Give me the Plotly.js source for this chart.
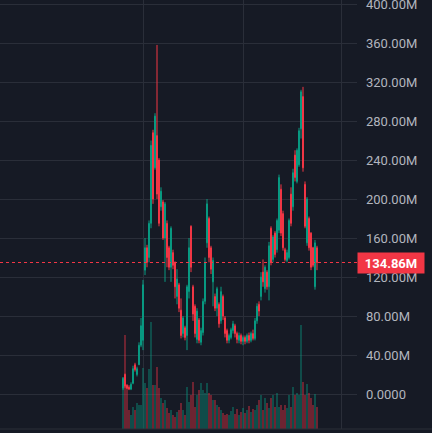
<!DOCTYPE html>
<html>
<head>
<meta charset="utf-8">
<script src="https://cdn.plot.ly/plotly-3.0.1.min.js"></script>
<style>
  html, body { margin: 0; padding: 0; background: #161a25; }
  #chart { width: 432px; height: 433px; }
</style>
</head>
<body>
<div id="chart"></div>
<script>
// Price candles (values in millions)
const open  = [6,20,9,7,5,11,30,20,30,50,55,127,150,140,175,268,232,265,240,192,197,160,175,150,130,145,135,100,112,86,62,68,60,105,172,110,90,56,76,53,63,95,155,180,150,115,100,88,92,75,100,78,65,55,58,65,70,62,55,60,54,58,54,60,55,62,57,75,92,100,125,108,125,110,170,138,165,148,168,210,185,148,137,140,205,192,245,218,235,272,305,215,155,180,165,150,110,150];
const high  = [17,21,10,9,12,29,32,28,53,78,117,160,153,178,260,271,288,358,242,212,199,197,178,152,172,148,136,128,114,98,80,70,112,160,173,112,92,88,78,68,98,140,200,182,152,140,103,110,94,110,102,80,67,62,68,75,72,64,63,62,60,60,62,63,64,66,78,93,95,125,138,132,127,156,172,163,167,180,225,215,188,150,148,180,212,231,250,252,273,312,315,218,202,182,166,151,158,152];
const low   = [4,6,5,4,4,10,23,18,30,48,45,122,130,135,170,195,230,200,172,188,158,115,130,127,115,128,98,92,84,57,58,55,45,98,125,75,58,52,52,50,60,92,150,135,123,90,85,80,68,72,76,58,52,52,56,62,58,52,52,51,50,51,52,52,53,55,55,72,80,96,110,104,107,96,132,135,140,145,165,162,147,136,135,138,172,188,218,216,233,262,228,170,152,147,127,130,107,127];
const close = [16,8,6,5,10,26,25,26,50,70,112,150,135,175,255,200,285,205,175,208,160,195,140,130,170,132,110,118,88,60,78,58,110,150,130,82,62,85,55,65,95,135,195,140,128,137,88,108,72,105,80,62,55,60,66,72,62,56,60,54,58,54,60,55,62,57,75,90,85,120,115,130,110,152,135,161,143,178,222,165,150,138,145,178,175,227,222,250,270,310,232,172,200,150,130,132,155,134.86];
const volume = [52,94,42,19,14,22,19,26,24,24,61,46,41,60,107,44,44,62,41,31,26,29,21,16,19,14,12,17,19,26,19,14,42,27,34,47,22,34,39,46,39,36,46,36,34,29,29,24,22,19,16,14,15,14,18,22,15,20,14,17,21,16,19,23,17,20,19,24,29,34,19,31,26,21,31,34,22,36,22,24,19,24,21,34,22,42,34,36,34,104,47,34,45,36,31,24,35,22];
const priceTicks = [0,40,80,120,160,200,240,280,320,360,400];
const priceTickText = ["0.0000","40.00M","80.00M","120.00M","160.00M","200.00M","240.00M","280.00M","320.00M","360.00M","400.00M"];
const lastPriceText = "134.86M";

const UP = '#089981', DOWN = '#f23645';
const idx = open.map((_, i) => i);
const lastClose = close[close.length - 1];
const volColors = close.map((c, i) => c >= open[i] ? 'rgba(8,153,129,0.5)' : 'rgba(242,54,69,0.5)');

const traces = [
  {
    type: 'bar', x: idx, y: volume, xaxis: 'x', yaxis: 'y',
    marker: { color: volColors, line: { width: 0 } },
    hoverinfo: 'skip', showlegend: false
  },
  {
    type: 'candlestick', x: idx, open: open, high: high, low: low, close: close,
    xaxis: 'x', yaxis: 'y2', whiskerwidth: 0,
    increasing: { line: { color: UP, width: 1 }, fillcolor: UP },
    decreasing: { line: { color: DOWN, width: 1 }, fillcolor: DOWN },
    showlegend: false
  }
];

const layout = {
  width: 432, height: 433,
  margin: { l: 0, r: 75, t: 0, b: 4, pad: 0 },
  paper_bgcolor: '#161a25', plot_bgcolor: '#161a25',
  showlegend: false,
  bargap: 0.2,
  font: { family: 'Roboto, "Open Sans", sans-serif', color: '#b2b5be', size: 13 },
  xaxis: {
    range: [-61.5, 117], tickvals: [10, 60, 109], showticklabels: false,
    showgrid: true, gridcolor: '#2a2e39', gridwidth: 1, zeroline: false,
    ticks: '', showline: false, rangeslider: { visible: false }, fixedrange: true
  },
  yaxis: {
    range: [0, 429], visible: false, showgrid: false, zeroline: false, fixedrange: true
  },
  yaxis2: {
    overlaying: 'y', side: 'right', range: [-35.9, 404.1],
    tickvals: priceTicks, ticktext: priceTickText,
    showgrid: true, gridcolor: '#2a2e39', gridwidth: 1, zeroline: false,
    ticks: '', ticklabelstandoff: 8, ticklabeloverflow: 'allow', showline: false,
    tickfont: { family: 'Roboto, "Open Sans", sans-serif', color: '#b2b5be', size: 13 },
    fixedrange: true
  },
  shapes: [
    { type: 'line', xref: 'paper', yref: 'y2', x0: 0, x1: 1, y0: lastClose, y1: lastClose,
      line: { color: DOWN, width: 1, dash: 'dot' } },
    { type: 'line', xref: 'paper', yref: 'paper', x0: 0, x1: 1.21, y0: 0, y1: 0,
      line: { color: '#2a2e39', width: 1 } }
  ],
  annotations: [
    { xref: 'paper', yref: 'y2', x: 1, y: lastClose, xanchor: 'left', yanchor: 'middle',
      text: '<b>' + lastPriceText + '</b>', showarrow: false,
      bgcolor: DOWN, borderpad: 3, width: 60, height: 14, align: 'center',
      font: { family: 'Roboto, "Open Sans", sans-serif', color: '#ffffff', size: 13 } }
  ]
};

Plotly.newPlot('chart', traces, layout, { displayModeBar: false, staticPlot: true });
</script>
</body>
</html>
